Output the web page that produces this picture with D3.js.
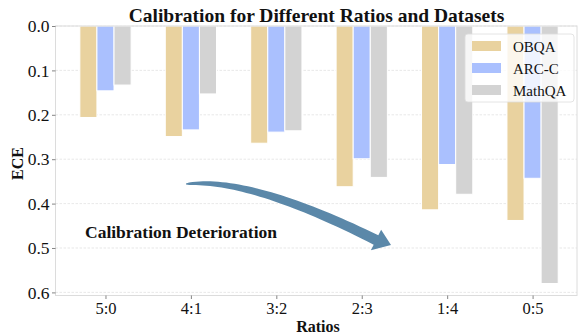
<!DOCTYPE html>
<html>
<head>
<meta charset="utf-8">
<script src="https://cdn.jsdelivr.net/npm/d3@7"></script>
<style>
  html, body { margin: 0; padding: 0; background: #fff; }
  svg { display: block; }
  svg text { font-family: "Liberation Serif", "Times New Roman", serif; }
</style>
</head>
<body>
<svg id="chart" width="579" height="334"></svg>
<script>
// Expected calibration error per mixing ratio, one array per dataset
const ratios = ["5:0", "4:1", "3:2", "2:3", "1:4", "0:5"];
const obqa   = [0.206, 0.249, 0.264, 0.362, 0.414, 0.438];
const arcC   = [0.146, 0.234, 0.239, 0.299, 0.312, 0.343];
const mathQA = [0.133, 0.153, 0.236, 0.341, 0.379, 0.580];
const yTicks = [0.0, 0.1, 0.2, 0.3, 0.4, 0.5, 0.6];
const seriesNames = ["OBQA", "ARC-C", "MathQA"];
const seriesColors = ["#e9d29f", "#aac0fe", "#d3d3d3"];

const series = seriesNames.map((name, i) => ({
  name, color: seriesColors[i], values: [obqa, arcC, mathQA][i]
}));

const svg = d3.select("#chart");
const plotL = 55.5, plotR = 577, plotT = 26, plotB = 295.5;

// Category index -> pixel centre
const x = d3.scaleLinear().domain([-0.585, 5.52]).range([plotL, plotR]);
// Inverted y: 0 at the top, error grows downward
const y = d3.scaleLinear().domain([0, 0.607]).range([plotT, plotB]);

const barW = 0.2; // in category units
const offsets = [-barW, 0, barW];

// Grid lines
svg.append("g")
  .selectAll("line")
  .data(yTicks)
  .join("line")
  .attr("x1", plotL).attr("x2", plotR)
  .attr("y1", d => y(d)).attr("y2", d => y(d))
  .attr("stroke", "#e2e2e2")
  .attr("stroke-width", 0.8)
  .attr("stroke-dasharray", "2.5,1.5");

// Bars
series.forEach((s, si) => {
  svg.append("g")
    .selectAll("rect")
    .data(s.values)
    .join("rect")
    .attr("x", (d, i) => x(i + offsets[si] - barW / 2))
    .attr("y", y(0))
    .attr("width", x(barW) - x(0))
    .attr("height", d => y(d) - y(0))
    .attr("fill", s.color)
    .attr("stroke", "#ffffff")
    .attr("stroke-width", 1);
});

// Frame
svg.append("rect")
  .attr("x", plotL).attr("y", plotT)
  .attr("width", plotR - plotL).attr("height", plotB - plotT)
  .attr("fill", "none")
  .attr("stroke", "#dcdcdc")
  .attr("stroke-width", 1);

// Y axis
const yAxis = d3.axisLeft(y)
  .tickValues(yTicks)
  .tickFormat(d3.format(".1f"))
  .tickSize(3.5)
  .tickPadding(2.5);
const gy = svg.append("g").attr("transform", `translate(${plotL},0)`).call(yAxis);
gy.attr("font-family", null);
gy.select(".domain").remove();
gy.selectAll(".tick line").attr("stroke", "#666").attr("stroke-width", 0.8);
gy.selectAll(".tick text")
  .attr("font-size", 17.5)
  .attr("fill", "#111");

// X axis
const xAxis = d3.axisBottom(x)
  .tickValues(d3.range(ratios.length))
  .tickFormat(i => ratios[i])
  .tickSize(3.5)
  .tickPadding(3.5);
const gx = svg.append("g").attr("transform", `translate(0,${plotB})`).call(xAxis);
gx.attr("font-family", null);
gx.select(".domain").remove();
gx.selectAll(".tick line").attr("stroke", "#666").attr("stroke-width", 0.8);
gx.selectAll(".tick text")
  .attr("font-size", 16.5)
  .attr("fill", "#111");

// Titles
svg.append("text")
  .attr("x", 316.5).attr("y", 21.5)
  .attr("text-anchor", "middle")
  .attr("font-weight", "bold")
  .attr("font-size", 19.5)
  .attr("fill", "#111")
  .text("Calibration for Different Ratios and Datasets");

svg.append("text")
  .attr("x", 318).attr("y", 332)
  .attr("text-anchor", "middle")
  .attr("font-weight", "bold")
  .attr("font-size", 16)
  .attr("fill", "#111")
  .text("Ratios");

svg.append("text")
  .attr("transform", `translate(22.5,163.5) rotate(-90)`)
  .attr("text-anchor", "middle")
  .attr("font-weight", "bold")
  .attr("font-size", 16)
  .attr("fill", "#111")
  .text("ECE");

// Curved trend arrow: tapered body along a quadratic curve, then a head
(function drawArrow() {
  const p0 = [186, 184], c = [250, 177], p1 = [376, 240];
  const tip = [391, 245];
  const n = 40, maxHalf = 5.2;
  const pt = t => [
    (1 - t) * (1 - t) * p0[0] + 2 * (1 - t) * t * c[0] + t * t * p1[0],
    (1 - t) * (1 - t) * p0[1] + 2 * (1 - t) * t * c[1] + t * t * p1[1]
  ];
  const tan = t => [
    2 * (1 - t) * (c[0] - p0[0]) + 2 * t * (p1[0] - c[0]),
    2 * (1 - t) * (c[1] - p0[1]) + 2 * t * (p1[1] - c[1])
  ];
  const upper = [], lower = [];
  for (let k = 0; k <= n; k++) {
    const t = k / n;
    const p = pt(t), d = tan(t);
    const len = Math.hypot(d[0], d[1]);
    const nx = -d[1] / len, ny = d[0] / len;
    const w = 0.6 + (maxHalf - 0.6) * Math.pow(t, 0.55);
    upper.push([p[0] + nx * w, p[1] + ny * w]);
    lower.push([p[0] - nx * w, p[1] - ny * w]);
  }
  const d = tan(1), len = Math.hypot(d[0], d[1]);
  const nx = -d[1] / len, ny = d[0] / len;
  const headHalf = 11.5;
  const h1 = [p1[0] + nx * headHalf, p1[1] + ny * headHalf];
  const h2 = [p1[0] - nx * headHalf, p1[1] - ny * headHalf];
  const pts = upper.concat([h1, tip, h2]).concat(lower.reverse());
  svg.append("path")
    .attr("d", "M" + pts.map(p => p.join(",")).join("L") + "Z")
    .attr("fill", "#5b88a9");
})();

svg.append("text")
  .attr("x", 85).attr("y", 238)
  .attr("font-weight", "bold")
  .attr("font-size", 17.5)
  .attr("fill", "#111")
  .text("Calibration Deterioration");

// Legend
const lg = svg.append("g").attr("transform", "translate(465,34)");
lg.append("rect")
  .attr("width", 109).attr("height", 68)
  .attr("rx", 3)
  .attr("fill", "#ffffff").attr("fill-opacity", 0.8)
  .attr("stroke", "#dddddd").attr("stroke-width", 0.8);
series.forEach((s, i) => {
  const cy = 12 + i * 22;
  lg.append("rect")
    .attr("x", 7).attr("y", cy - 5)
    .attr("width", 29).attr("height", 10)
    .attr("fill", s.color);
  lg.append("text")
    .attr("x", 48).attr("y", cy + 5.5)
    .attr("font-size", 15)
    .attr("fill", "#111")
    .text(s.name);
});
</script>
</body>
</html>
